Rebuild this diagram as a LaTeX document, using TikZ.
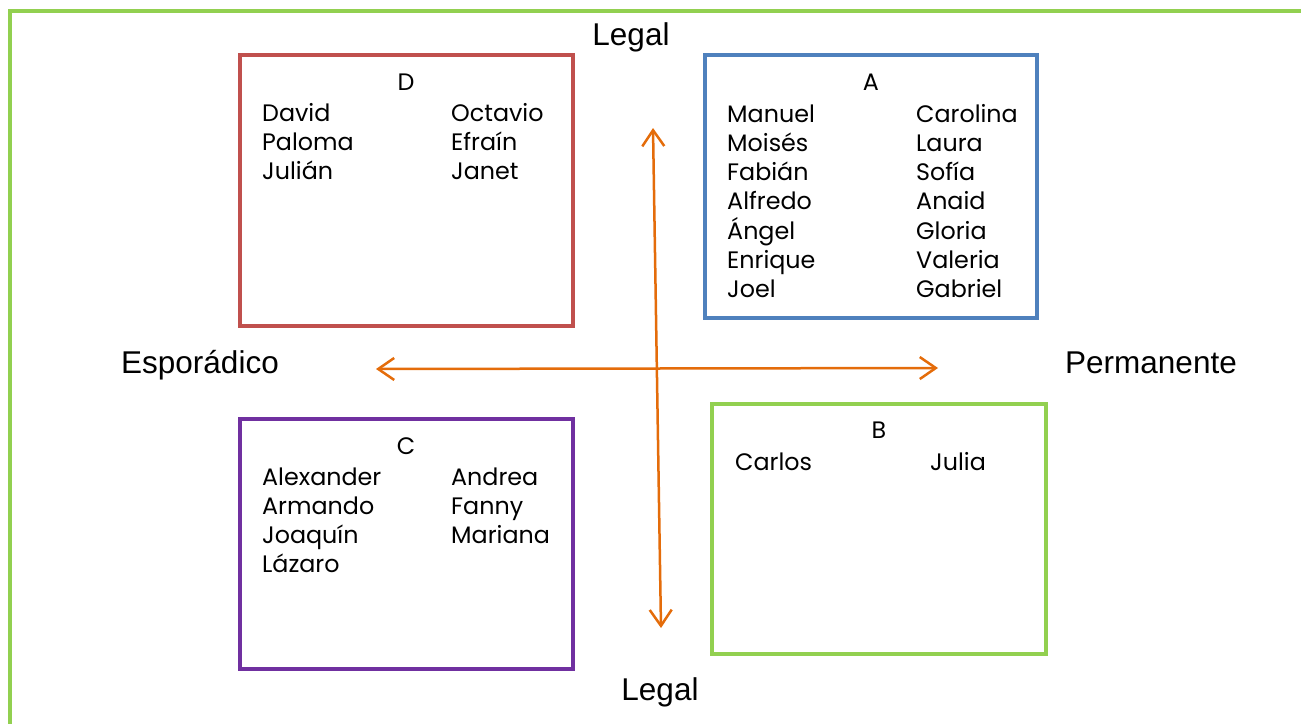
\documentclass[tikz,border=0pt]{standalone}
\usepackage{fontspec}
\setmainfont{Poppins}
\newfontfamily\arialfont{Liberation Sans}
\usetikzlibrary{arrows.meta}
\definecolor{frameGreen}{HTML}{92D050}
\definecolor{boxRed}{HTML}{C0504D}
\definecolor{boxBlue}{HTML}{4F81BD}
\definecolor{boxPurple}{HTML}{7030A0}
\definecolor{axisOrange}{HTML}{E46C0A}

\begin{document}
\begin{tikzpicture}[x=1pt, y=-1pt,
    quad/.style={draw, line width=4.5pt, minimum width=#1, inner sep=0pt},
    names/.style={align=left, inner sep=0pt, anchor=base west, font=\fontsize{23.8}{29.3}\selectfont},
    letter/.style={inner sep=0pt, anchor=base, font=\fontsize{23.8}{29.3}\selectfont},
    axislabel/.style={inner sep=0pt, anchor=base, font=\arialfont\fontsize{31.5}{36}\selectfont},
    axis/.style={draw=axisOrange, line width=2.5pt, {Straight Barb[length=16pt, width=22pt]}-{Straight Barb[length=16pt, width=22pt]}}]
    \useasboundingbox (0,0) rectangle (1301,723);
    \draw[frameGreen, line width=4pt] (10,740) -- (10,11) -- (1320,11);

    \node (D) [quad=333pt, minimum height=271pt, draw=boxRed] at (406.5,190.5) {};
    \node (A) [quad=332pt, minimum height=263pt, draw=boxBlue] at (871,186.5) {};
    \node (C) [quad=333pt, minimum height=250pt, draw=boxPurple] at (406.5,544) {};
    \node (B) [quad=334pt, minimum height=250pt, draw=frameGreen] at (879,529) {};

    % base anchor sits on the last line of each list
    \node (Dlab) [letter] at (406,90) {D};
    \node (Dleft) [names] at (262,179.6) {David\\Paloma\\Julián};
    \node (Dright) [names] at (451,179.6) {Octavio\\Efraín\\Janet};

    \node (Alab) [letter] at (871,90) {A};
    \node (Aleft) [names] at (727,297.8) {Manuel\\Moisés\\Fabián\\Alfredo\\Ángel\\Enrique\\Joel};
    \node (Aright) [names] at (916,297.8) {Carolina\\Laura\\Sofía\\Anaid\\Gloria\\Valeria\\Gabriel};

    \node (Clab) [letter] at (406,454) {C};
    \node (Cleft) [names] at (262,572.9) {Alexander\\Armando\\Joaquín\\Lázaro};
    \node (Cright) [names] at (451,543.6) {Andrea\\Fanny\\Mariana};

    \node (Blab) [letter] at (879,438) {B};
    \node (Bleft) [names] at (735,470) {Carlos};
    \node (Bright) [names] at (930,470) {Julia};

    \node (legaltop) [axislabel] at (631,45) {Legal};
    \node (legalbottom) [axislabel] at (660,700) {Legal};
    \node (espor) [axislabel] at (200,373) {Esporádico};
    \node (perm) [axislabel] at (1151,373) {Permanente};

    \coordinate (up) at (653,128);
    \coordinate (down) at (661,628);
    \coordinate (left) at (376,369);
    \coordinate (right) at (938,368);
    \draw[axis] (up) -- (down);
    \draw[axis] (left) -- (right);
\end{tikzpicture}
\end{document}
